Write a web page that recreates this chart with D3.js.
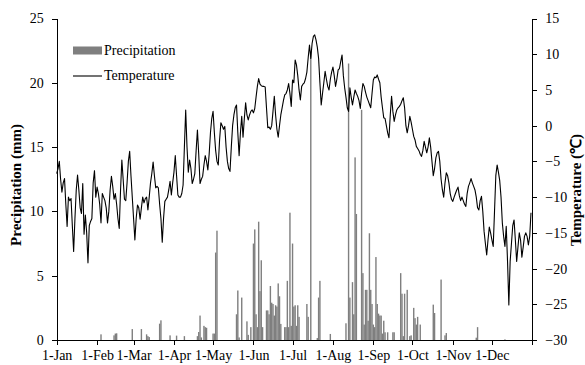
<!DOCTYPE html>
<html>
<head>
<meta charset="utf-8">
<script src="https://cdn.jsdelivr.net/npm/d3@7"></script>
<style>
  body { margin: 0; background: #fff; }
  svg text { font-family: "Liberation Serif", "Times New Roman", serif; font-size: 14px; fill: #000; }
  .axis path, .axis line { stroke: #000; stroke-width: 1; shape-rendering: crispEdges; }
</style>
</head>
<body>
<svg id="chart" width="585" height="365"></svg>
<script>
// month ticks (day of year) and labels
const monthStarts = [0, 31, 59, 90, 120, 151, 181, 212, 243, 273, 304, 334, 365];
const monthLabels = ["1-Jan", "1-Feb", "1-Mar", "1-Apr", "1-May", "1-Jun", "1-Jul", "1-Aug", "1-Sep", "1-Oct", "1-Nov", "1-Dec"];
const precipTicks = [0, 5, 10, 15, 20, 25];
const tempTicks = [-30, -25, -20, -15, -10, -5, 0, 5, 10, 15];

// daily mean temperature (°C), day 0 = 1 Jan
const temperature = [
  -6.7, -6, -5, -7.5, -9.3, -8, -7.4, -11, -14.1, -10,
  -10.5, -10.2, -14, -17.6, -13, -9, -6.9, -9, -11.5, -12.3,
  -8.1, -15.2, -12.5, -15, -19.2, -14, -13.4, -13, -8, -6.3,
  -10, -8.6, -9.5, -11, -13.6, -9.5, -10, -10.5, -11.5, -13.6,
  -12, -9, -7.1, -8.5, -10.3, -9.5, -11, -13, -14.4, -9,
  -4.8, -7.5, -10.3, -10.5, -8, -5, -3.6, -7, -10, -13,
  -16, -13, -11.1, -11.5, -13.1, -11.5, -10, -10.8, -10.2, -10,
  -11.8, -10, -8, -6.7, -5.1, -7, -8.7, -8.5, -8.7, -11,
  -13, -16.3, -13, -10.6, -10.3, -10, -9, -7.8, -9.7, -8,
  -6.5, -4.2, -7, -9.7, -10, -10, -9.5, -8.3, -3, 2.2,
  -3, -6.5, -4.8, -6, -8.1, -7.5, -6.7, -3.5, -0.6, -4,
  -8.1, -7.5, -7.1, -5.5, -4.2, -5, -6.2, -4, -1, 1,
  2, -1, -3.5, -5, -5.5, -2, 0.4, 0, -0.5, -0.1,
  -3, -5, -6, -6.4, -3, 0, 1.5, 2.5, 2.9, -1,
  -4.2, -1, 1.3, -1.6, 1, 3.2, 1.5, 0.8, 1.5, 2,
  2.2, 1.8, 2.4, 4, 5.5, 6.6, 5.8, 5.6, 5.5, 5.5,
  5.4, 2.5, -0.3, -0.2, -0.5, 0, 2, 4.1, 1.5, -0.5,
  -1.6, 0, 1.5, 2.5, 3.5, 4.3, 4.5, 5, 5.9, 4.5,
  2.7, 6.4, 6, 9.2, 8.5, 7, 5, 3.6, 5.5, 5.8,
  6, 6.6, 7.5, 9.5, 11.3, 9.4, 11.5, 12.5, 12.7, 12,
  11, 9.4, 6, 2.9, 4.5, 6, 7.6, 6.5, 5.5, 5,
  6.5, 7.5, 8.2, 7, 5.5, 6.5, 7.8, 8, 9, 9.9,
  7, 5.3, 4, 2.5, 2, 5.3, 4, 2.9, 4, 5,
  4.5, 4.1, 3.5, 2.4, 4.5, 5.9, 5.5, 4.7, 4, 3.5,
  3, 2.5, 4.5, 6.4, 6.8, 6.7, 7.1, 6.5, 6, 4,
  2.5, 1.1, 1, 0, -1, -1.7, 1.5, 4.1, 2, 0.6,
  1.5, 2.2, 2.5, 2.7, 3, 3.5, 3.9, 2.5, 0, -1,
  0, 1.3, 0.5, -0.5, -1.5, -2, -2.9, -3.2, -3.5, -4,
  -4.3, -3.5, -2.2, -3, -3.8, -3, -1.7, -3, -5, -7,
  -6, -4.5, -3.8, -3.6, -5, -7.5, -9, -10, -8, -6.6,
  -7, -8, -9.5, -10.3, -10.6, -10, -9.5, -9, -8.6, -9.8,
  -10.5, -10, -10.5, -11, -11.3, -9.5, -8.5, -8, -7.4, -8,
  -8.5, -9, -10, -11.5, -11.8, -10.5, -9.9, -12, -14.8, -16.5,
  -18.1, -16, -14.2, -15, -16, -16.9, -12, -7, -5.5, -6.5,
  -7.7, -10, -13.6, -15.5, -16.9, -14.1, -19, -25.1, -19, -16.5,
  -14, -13.2, -16, -19, -17, -15, -16, -18.4, -17, -15.5,
  -15, -15.5, -16.7, -15.5, -12.2
];

// rainy days (day of year) and daily precipitation (mm)
const rainDay = [
  34, 44, 45, 46, 58, 65, 69, 70, 71, 79, 80, 87, 92, 98,
  108, 109, 110, 111, 113, 114, 115, 120, 121, 122, 123,
  138, 139, 140, 142, 146, 147, 149, 151, 152, 153, 154, 155, 156, 157, 158,
  161, 162, 163, 164, 165, 166, 167, 168, 169, 170, 171, 172, 175, 176, 177, 178, 179, 180,
  181, 182, 183, 184, 185, 186, 192, 193, 195, 200, 201, 202, 210,
  222, 224, 225, 227, 228, 229, 230, 234, 235, 236, 237, 238, 239, 240,
  241, 242, 243, 244, 245, 246, 247, 248, 249, 250, 251, 252, 254, 258, 259,
  264, 265, 266, 267, 269, 271, 272, 274, 275, 276, 277, 279,
  289, 290, 295, 298, 299, 322, 323, 344
];
const rainMm = [
  0.44, 0.36, 0.5, 0.52, 0.85, 0.85, 0.44, 0.3, 0.23, 1.27, 1.53, 0.36, 0.34, 0.3,
  0.3, 0.62, 1.9, 0.2, 1.1, 1.0, 0.95, 0.5, 0.5, 6.8, 8.5,
  2.0, 3.85, 0.2, 3.3, 1.45, 0.4, 1.0, 7.5, 8.6, 2.0, 1.0, 9.2, 3.8, 6.2, 1.0,
  2.3, 2.3, 2.0, 4.2, 2.9, 2.8, 1.9, 2.7, 2.6, 4.4, 3.4, 1.25, 1.0, 1.0, 4.6, 1.0, 9.9, 1.1,
  7.5, 2.6, 2.7, 1.1, 2.7, 1.8, 2.8, 1.8, 22.5, 0.15, 3.3, 4.6, 0.47,
  1.3, 21.5, 3.3, 4.5, 2.0, 14.2, 9.8, 17.9, 5.2, 1.2, 3.9, 3.9, 1.5, 8.3,
  3.9, 2.8, 1.2, 1.0, 6.45, 2.8, 2.05, 1.9, 1.9, 0.5, 1.5, 0.6, 0.6, 0.6, 0.6,
  5.2, 3.6, 0.3, 3.6, 3.9, 0.3, 0.36, 2.5, 1.7, 1.2, 1.8, 1.2,
  2.75, 2.1, 4.7, 0.36, 0.54, 0.18, 1.0, 0.05
];

const svg = d3.select("#chart");
const x = d3.scaleLinear().domain([0, 365]).range([56.7, 532.3]);
const yP = d3.scaleLinear().domain([0, 25]).range([340, 18.5]);
const yT = d3.scaleLinear().domain([-30, 15]).range([340, 18.5]);

// precipitation bars
const rain = rainDay.map((d, i) => ({day: d, mm: rainMm[i]}));
svg.append("g").selectAll("rect").data(rain).join("rect")
  .attr("x", d => x(d.day) - 0.7)
  .attr("width", 1.4)
  .attr("y", d => yP(d.mm))
  .attr("height", d => yP(0) - yP(d.mm))
  .attr("fill", "#7f7f7f");

// temperature line
const line = d3.line().x((d, i) => x(i)).y(d => yT(d));
svg.append("path")
  .datum(temperature)
  .attr("fill", "none")
  .attr("stroke", "#000")
  .attr("stroke-width", 1.1)
  .attr("stroke-linejoin", "round")
  .attr("d", line);

// axes
svg.append("g").attr("class", "axis").attr("transform", "translate(0,340)")
  .call(d3.axisBottom(x).tickValues(monthStarts).tickSize(5).tickSizeOuter(0).tickPadding(5)
    .tickFormat((d, i) => monthLabels[i] || ""));
svg.append("g").attr("class", "axis").attr("transform", "translate(56.7,0)")
  .call(d3.axisLeft(yP).tickValues(precipTicks).tickSize(5).tickSizeOuter(0).tickPadding(8));
svg.append("g").attr("class", "axis").attr("transform", "translate(532.3,0)")
  .call(d3.axisRight(yT).tickValues(tempTicks).tickSize(5).tickSizeOuter(0).tickPadding(8));
svg.selectAll(".axis text").style("font-family", "'Liberation Serif', serif").style("font-size", "14px");

// axis titles
svg.append("text")
  .attr("transform", "translate(21,185) rotate(-90)")
  .attr("text-anchor", "middle")
  .style("font-weight", "bold").style("font-size", "15px")
  .text("Precipitation (mm)");
svg.append("text")
  .attr("transform", "translate(581,190) rotate(-90)")
  .attr("text-anchor", "middle")
  .style("font-weight", "bold").style("font-size", "15px")
  .text("Temperature (℃)");

// legend
const lg = svg.append("g");
lg.append("rect").attr("x", 73).attr("y", 46.5).attr("width", 29).attr("height", 8).attr("fill", "#7f7f7f");
lg.append("text").attr("x", 104).attr("y", 55).text("Precipitation");
lg.append("line").attr("x1", 73).attr("x2", 102).attr("y1", 76).attr("y2", 76).attr("stroke", "#000").attr("stroke-width", 1.1);
lg.append("text").attr("x", 104).attr("y", 80).text("Temperature");
</script>
</body>
</html>
